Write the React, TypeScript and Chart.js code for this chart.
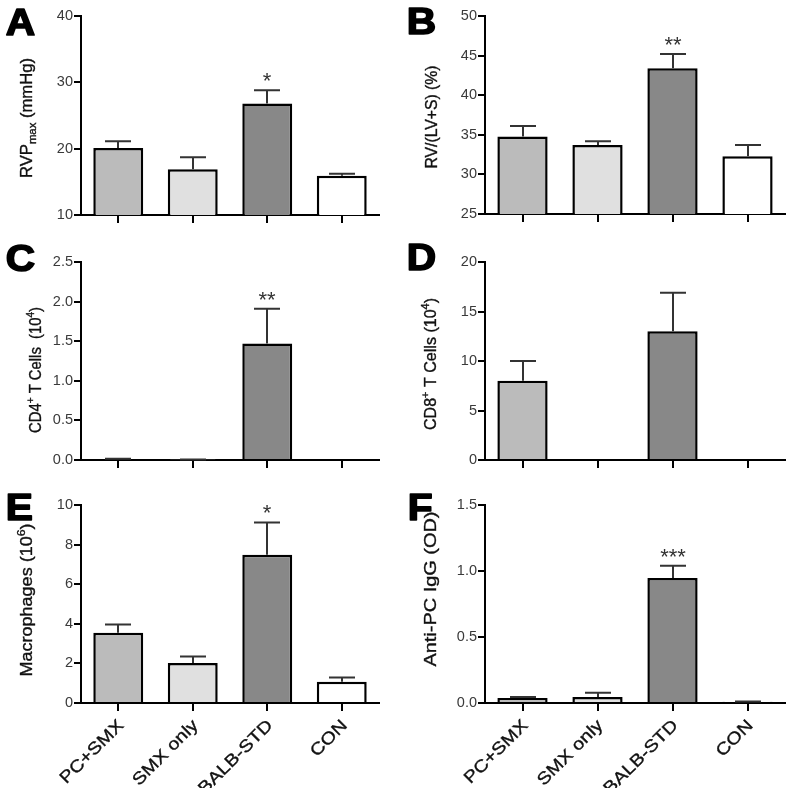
import React, { useEffect, useRef } from "react";
import { Chart, registerables } from "chart.js";

Chart.register(...registerables);

const FAMILY = '"Liberation Sans", Arial, Helvetica, sans-serif';

const categories = ["PC+SMX", "SMX only", "BALB-STD", "CON"];
const barColors = ["#bbbbbb", "#e0e0e0", "#888888", "#ffffff"];

const rvpMean = [20.1, 16.9, 26.8, 15.9];
const rvpErr = [1.0, 1.8, 2.0, 0.3];
const rvpSig = ["", "", "*", ""];
const rvpTicks = [10, 20, 30, 40];

const rvRatioMean = [34.8, 33.7, 43.4, 32.3];
const rvRatioErr = [1.3, 0.5, 1.8, 1.4];
const rvRatioSig = ["", "", "**", ""];
const rvRatioTicks = [25, 30, 35, 40, 45, 50];

const cd4Mean = [0.012, 0.005, 1.47, 0];
const cd4Err = [0.004, 0.002, 0.44, 0];
const cd4Sig = ["", "", "**", ""];
const cd4Ticks = [0, 0.5, 1.0, 1.5, 2.0, 2.5];

const cd8Mean = [8.0, 0, 13.0, 0];
const cd8Err = [2.0, 0, 3.9, 0];
const cd8Sig = ["", "", "", ""];
const cd8Ticks = [0, 5, 10, 15, 20];

const macMean = [3.55, 2.02, 7.49, 1.07];
const macErr = [0.42, 0.33, 1.63, 0.22];
const macSig = ["", "", "*", ""];
const macTicks = [0, 2, 4, 6, 8, 10];

const iggMean = [0.038, 0.045, 0.947, 0.01];
const iggErr = [0.007, 0.033, 0.093, 0.002];
const iggSig = ["", "", "***", ""];
const iggTicks = [0, 0.5, 1.0, 1.5];

type Seg = { t: string; k: "n" | "sub" | "sup" };

function parseRich(s: string): Seg[] {
  const out: Seg[] = [];
  const re = /(_|\^)\{([^}]*)\}|([^_^]+)/g;
  let m: RegExpExecArray | null;
  while ((m = re.exec(s))) {
    if (m[3]) out.push({ t: m[3], k: "n" });
    else out.push({ t: m[2], k: m[1] === "_" ? "sub" : "sup" });
  }
  return out;
}

function drawRich(ctx: CanvasRenderingContext2D, segs: Seg[], size: number, target: number) {
  const small = size * 0.68;
  const fontFor = (k: string) => `${k === "n" ? size : small}px ${FAMILY}`;
  let total = 0;
  const widths = segs.map((s) => {
    ctx.font = fontFor(s.k);
    const w = ctx.measureText(s.t).width;
    total += w;
    return w;
  });
  ctx.scale(target / total, 1);
  let x = -total / 2;
  ctx.textAlign = "left";
  ctx.textBaseline = "alphabetic";
  segs.forEach((s, i) => {
    ctx.font = fontFor(s.k);
    const dy = s.k === "sub" ? size * 0.25 : s.k === "sup" ? -size * 0.42 : 0;
    ctx.fillText(s.t, x, dy);
    ctx.strokeText(s.t, x, dy);
    x += widths[i];
  });
}

type PanelDef = {
  letter: string;
  title: string;
  mean: number[];
  err: number[];
  sig: string[];
  ticks: number[];
  decimals: number;
  left: number;
  top: number;
  w: number;
  h: number;
  yWidth: number;
  padTop: number;
  padRight: number;
  xHeight: number;
  titleX: number;
  titleY: number;
  titleLen: number;
  letterX: number;
  letterY: number;
  showX: boolean;
};

const panels: PanelDef[] = [
  { letter: "A", title: "RVP_{max} (mmHg)", mean: rvpMean, err: rvpErr, sig: rvpSig, ticks: rvpTicks, decimals: 0,
    left: 0, top: 0, w: 394, h: 240, yWidth: 81, padTop: 16, padRight: 15, xHeight: 25,
    titleX: 32, titleY: 118, titleLen: 120, letterX: 5, letterY: 36, showX: false },
  { letter: "B", title: "RV/(LV+S) (%)", mean: rvRatioMean, err: rvRatioErr, sig: rvRatioSig, ticks: rvRatioTicks, decimals: 0,
    left: 394, top: 0, w: 394, h: 240, yWidth: 91, padTop: 16, padRight: 3, xHeight: 26,
    titleX: 43, titleY: 117, titleLen: 103, letterX: 12, letterY: 35, showX: false },
  { letter: "C", title: "CD4^{+} T Cells  (10^{4})", mean: cd4Mean, err: cd4Err, sig: cd4Sig, ticks: cd4Ticks, decimals: 1,
    left: 0, top: 240, w: 394, h: 240, yWidth: 81, padTop: 22, padRight: 15, xHeight: 20,
    titleX: 41, titleY: 130, titleLen: 126, letterX: 5, letterY: 32, showX: false },
  { letter: "D", title: "CD8^{+} T Cells (10^{4})", mean: cd8Mean, err: cd8Err, sig: cd8Sig, ticks: cd8Ticks, decimals: 0,
    left: 394, top: 240, w: 394, h: 240, yWidth: 91, padTop: 22, padRight: 3, xHeight: 20,
    titleX: 42, titleY: 124, titleLen: 132, letterX: 12, letterY: 31, showX: false },
  { letter: "E", title: "Macrophages (10^{6})", mean: macMean, err: macErr, sig: macSig, ticks: macTicks, decimals: 0,
    left: 0, top: 480, w: 394, h: 308, yWidth: 81, padTop: 25, padRight: 15, xHeight: 85,
    titleX: 32, titleY: 120, titleLen: 153, letterX: 5, letterY: 41, showX: true },
  { letter: "F", title: "Anti-PC IgG (OD)", mean: iggMean, err: iggErr, sig: iggSig, ticks: iggTicks, decimals: 1,
    left: 394, top: 480, w: 394, h: 308, yWidth: 91, padTop: 25, padRight: 3, xHeight: 85,
    titleX: 42, titleY: 109, titleLen: 155, letterX: 13, letterY: 41, showX: true },
];

function buildConfig(p: PanelDef): any {
  const overlay = {
    id: "overlay" + p.letter,
    afterDatasetsDraw(chart: any) {
      const ctx: CanvasRenderingContext2D = chart.ctx;
      const ys = chart.scales.y;
      const meta = chart.getDatasetMeta(0);
      ctx.save();
      ctx.strokeStyle = "#333";
      ctx.lineWidth = 2;
      meta.data.forEach((bar: any, i: number) => {
        const e = p.err[i];
        const x = Math.round(bar.x);
        const y1 = ys.getPixelForValue(p.mean[i] + e);
        if (e > 0) {
          const y0 = ys.getPixelForValue(p.mean[i]);
          ctx.beginPath();
          ctx.moveTo(x, y0);
          ctx.lineTo(x, y1);
          ctx.moveTo(x - 13, y1);
          ctx.lineTo(x + 13, y1);
          ctx.stroke();
        }
        if (p.sig[i]) {
          ctx.fillStyle = "#333";
          ctx.font = `22px ${FAMILY}`;
          ctx.textAlign = "center";
          ctx.textBaseline = "alphabetic";
          ctx.fillText(p.sig[i], x, y1 - 2);
        }
      });
      ctx.restore();
    },
    afterDraw(chart: any) {
      const ctx: CanvasRenderingContext2D = chart.ctx;
      // y title
      ctx.save();
      ctx.fillStyle = "#111";
      ctx.strokeStyle = "#111";
      ctx.lineWidth = 0.35;
      ctx.translate(p.titleX, p.titleY);
      ctx.rotate(-Math.PI / 2);
      drawRich(ctx, parseRich(p.title), 16, p.titleLen);
      ctx.restore();
      // panel letter
      ctx.save();
      ctx.fillStyle = "#000";
      ctx.strokeStyle = "#000";
      ctx.lineWidth = 1.6;
      ctx.lineJoin = "round";
      ctx.font = `bold 37px ${FAMILY}`;
      ctx.textAlign = "left";
      ctx.textBaseline = "alphabetic";
      ctx.translate(p.letterX + 0.8, p.letterY - 0.8);
      ctx.scale(1.1, 1);
      ctx.fillText(p.letter, 0, 0);
      ctx.strokeText(p.letter, 0, 0);
      ctx.restore();
      // x labels
      if (p.showX) {
        const xs = chart.scales.x;
        const bottom = chart.chartArea.bottom;
        categories.forEach((c, i) => {
          const px = xs.getPixelForValue(i);
          ctx.save();
          ctx.fillStyle = "#111";
          ctx.strokeStyle = "#111";
          ctx.lineWidth = 0.35;
          ctx.font = `17px ${FAMILY}`;
          ctx.textAlign = "right";
          ctx.textBaseline = "middle";
          ctx.translate(px + 3, bottom + 20);
          ctx.rotate(-Math.PI / 4);
          ctx.scale(1.17, 1);
          ctx.fillText(c, 0, 0);
          ctx.strokeText(c, 0, 0);
          ctx.restore();
        });
      }
    },
  };

  return {
    type: "bar",
    data: {
      labels: categories,
      datasets: [
        {
          data: p.mean,
          backgroundColor: barColors,
          borderColor: "#000",
          borderWidth: 2.5,
          borderSkipped: "bottom",
          barPercentage: 0.67,
          categoryPercentage: 1,
        },
      ],
    },
    options: {
      responsive: false,
      animation: false,
      events: [],
      layout: { padding: { left: 0, top: p.padTop, right: p.padRight, bottom: 0 } },
      plugins: { legend: { display: false }, tooltip: { enabled: false }, title: { display: false } },
      scales: {
        x: {
          type: "category",
          offset: true,
          grid: { display: true, drawOnChartArea: false, drawTicks: true, tickLength: 8, color: "#000", lineWidth: 2, offset: false },
          border: { display: true, color: "#000", width: 2 },
          ticks: { display: false },
          afterFit: (s: any) => {
            s.height = p.xHeight;
          },
        },
        y: {
          type: "linear",
          min: p.ticks[0],
          max: p.ticks[p.ticks.length - 1],
          grid: { display: true, drawOnChartArea: false, drawTicks: true, tickLength: 7, color: "#000", lineWidth: 2 },
          border: { display: true, color: "#000", width: 2 },
          ticks: {
            color: "#3a3a3a",
            font: { family: FAMILY, size: 14.5 },
            padding: 1,
            callback: (v: any) => Number(v).toFixed(p.decimals),
          },
          afterBuildTicks: (s: any) => {
            s.ticks = p.ticks.map((v) => ({ value: v }));
          },
          afterFit: (s: any) => {
            s.width = p.yWidth;
          },
        },
      },
    },
    plugins: [overlay],
  };
}

function Panel({ p }: { p: PanelDef }) {
  const ref = useRef<HTMLCanvasElement>(null);
  useEffect(() => {
    const chart = new Chart(ref.current as HTMLCanvasElement, buildConfig(p));
    return () => chart.destroy();
  }, [p]);
  return (
    <canvas
      ref={ref}
      width={p.w}
      height={p.h}
      style={{ position: "absolute", left: p.left, top: p.top, width: p.w, height: p.h, display: "block" }}
    />
  );
}

export default function App() {
  return (
    <div style={{ position: "absolute", left: 0, top: 0, width: 788, height: 788, background: "#fff" }}>
      {panels.map((p) => (
        <Panel key={p.letter} p={p} />
      ))}
    </div>
  );
}
